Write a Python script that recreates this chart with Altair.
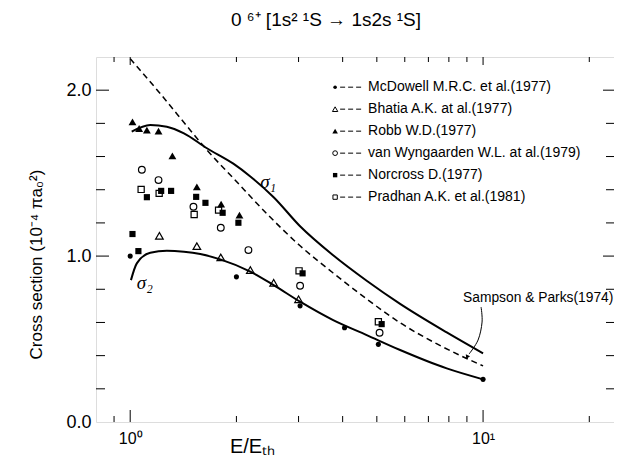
import altair as alt
import pandas as pd

# ---------------- data ----------------
mcd_x = [1.0, 2.0, 3.03, 4.05, 5.05, 10.0]
mcd_y = [1.00, 0.875, 0.70, 0.568, 0.468, 0.257]

bha_x = [1.21, 1.545, 1.806, 2.19, 2.55, 3.0]
bha_y = [1.122, 1.06, 0.992, 0.916, 0.839, 0.74]

robb_x = [1.015, 1.06, 1.115, 1.203, 1.317, 1.545, 1.81, 2.04]
robb_y = [1.809, 1.769, 1.759, 1.753, 1.604, 1.417, 1.313, 1.247]

vw_x = [1.079, 1.203, 1.511, 1.806, 2.163, 3.03, 5.09]
vw_y = [1.520, 1.458, 1.297, 1.171, 1.036, 0.821, 0.538]

nor_x = [1.015, 1.055, 1.115, 1.224, 1.306, 1.538, 1.634, 1.828, 2.026, 3.08, 5.16]
nor_y = [1.133, 1.030, 1.355, 1.393, 1.393, 1.357, 1.321, 1.261, 1.201, 0.896, 0.590]

pra_x = [1.074, 1.208, 1.518, 1.78, 3.01, 5.05]
pra_y = [1.402, 1.378, 1.251, 1.277, 0.911, 0.604]

s1_x = [1.01, 1.14, 1.27, 1.42, 1.65, 1.96, 2.19, 2.55, 3.03, 3.76, 4.69, 5.82, 7.89, 10.0]
s1_y = [1.75, 1.79, 1.78, 1.74, 1.65, 1.557, 1.48, 1.355, 1.18, 1.005, 0.85, 0.712, 0.54, 0.414]

sp_x = [1.0, 1.22, 1.48, 1.65, 1.96, 2.44, 3.03, 3.76, 4.69, 5.82, 7.38, 10.0]
sp_y = [2.19, 1.976, 1.759, 1.639, 1.470, 1.255, 1.062, 0.898, 0.740, 0.598, 0.472, 0.338]

s2_x = [1.005, 1.044, 1.14, 1.27, 1.42, 1.58, 1.80, 2.19, 2.55, 3.03, 3.76, 4.68, 5.82, 7.89, 10.0]
s2_y = [0.855, 0.956, 1.02, 1.032, 1.026, 1.012, 0.98, 0.906, 0.825, 0.725, 0.614, 0.524, 0.434, 0.323, 0.257]

legend_labels = [
    "McDowell M.R.C. et al.(1977)",
    "Bhatia A.K. at al.(1977)",
    "Robb W.D.(1977)",
    "van Wyngaarden W.L. at al.(1979)",
    "Norcross D.(1977)",
    "Pradhan A.K. et al.(1981)",
]

x_major = [1, 10]
x_minor = [0.9, 2, 3, 4, 5, 6, 7, 8, 9, 20]
y_major = [1.0, 2.0]
y_minor = [0.2, 0.4, 0.6, 0.8, 1.2, 1.4, 1.6, 1.8]

title_text = "0 \u2076\u207a [1s\u00b2 \u00b9S \u2192 1s2s \u00b9S]"

# ---------------- layout ----------------
W, H = 518, 365
FONT = "Liberation Sans"

xscale = alt.Scale(type="log", domain=[0.8, 23.5], nice=False, zero=False)
yscale = alt.Scale(domain=[0, 2.2], nice=False, zero=False)

xaxis = alt.Axis(values=[1, 10], labelExpr="datum.value == 1 ? '10\u2070' : '10\u00b9'",
                 title="E/E\u209c\u2095", ticks=False, tickSize=0, domain=False, grid=False,
                 labelFont=FONT, labelFontSize=16, labelColor="black", labelPadding=8,
                 titleFont=FONT, titleFontSize=20, titleFontWeight="normal", titleColor="black",
                 titleX=156, titleY=30, titleBaseline="alphabetic", titleAlign="center")
yaxis = alt.Axis(values=[0, 1, 2], labelExpr="format(datum.value, '.1f')",
                 title="Cross section  (10\u207b\u2074 \u03c0a\u2080\u00b2)", ticks=False, tickSize=0,
                 domain=False, grid=False,
                 labelFont=FONT, labelFontSize=18, labelColor="black", labelPadding=5,
                 titleFont=FONT, titleFontSize=17, titleFontWeight="normal", titleColor="black",
                 titleX=-60, titleY=207, titleAngle=-90, titleBaseline="middle", titleAlign="center")


def X(f="x"):
    return alt.X(f"{f}:Q", scale=xscale, axis=xaxis)


def Y(f="y"):
    return alt.Y(f"{f}:Q", scale=yscale, axis=yaxis)


def df(xs, ys):
    return pd.DataFrame({"x": xs, "y": ys})


layers = []

# curves
layers.append(alt.Chart(df(s1_x, s1_y)).mark_line(color="black", strokeWidth=2, interpolate="monotone")
              .encode(x=X(), y=Y()))
layers.append(alt.Chart(df(s2_x, s2_y)).mark_line(color="black", strokeWidth=2, interpolate="monotone")
              .encode(x=X(), y=Y()))
layers.append(alt.Chart(df(sp_x, sp_y)).mark_line(color="black", strokeWidth=1.5, strokeDash=[6, 4],
                                                  interpolate="monotone")
              .encode(x=X(), y=Y()))

# markers
series = [
    (mcd_x, mcd_y, "circle", True, 26),
    (bha_x, bha_y, "triangle-up", False, 58),
    (robb_x, robb_y, "triangle-up", True, 62),
    (vw_x, vw_y, "circle", False, 45),
    (nor_x, nor_y, "square", True, 38),
    (pra_x, pra_y, "square", False, 38),
]
for xs, ys, shp, fil, sz in series:
    layers.append(alt.Chart(df(xs, ys)).mark_point(shape=shp, filled=fil, size=sz, color="black",
                                                   strokeWidth=1.2, opacity=1)
                  .encode(x=X(), y=Y()))


# pixel -> data helpers for annotation placement
def px_to_y(py):
    return (422 - py) / 166.0


def px_to_x(px):
    return 10 ** ((px - 130) / 353.0)


def tick_rules_y(vals, x0, x1):
    return alt.Chart(pd.DataFrame({"v": vals})).mark_rule(color="black", strokeWidth=1).encode(
        y=Y("v"), x=alt.value(x0), x2=alt.value(x1))


def tick_rules_x(vals, y0, y1):
    return alt.Chart(pd.DataFrame({"v": vals})).mark_rule(color="black", strokeWidth=1).encode(
        x=X("v"), y=alt.value(y0), y2=alt.value(y1))


layers += [
    tick_rules_y(y_major, 0, 13), tick_rules_y(y_minor, 0, 9),
    tick_rules_y(y_major, W, W - 11), tick_rules_y(y_minor, W, W - 8),
    tick_rules_x(x_major, H, H - 12), tick_rules_x(x_minor, H, H - 6),
    tick_rules_x(x_major, 0, 8), tick_rules_x(x_minor, 0, 5),
]

# legend (manual)
row_px = [87, 109, 131, 153, 175, 197]
row_y = [px_to_y(p) for p in row_px]
leg_mx = px_to_x(335)
leg_d0, leg_d1 = px_to_x(340), px_to_x(364)
leg_tx = px_to_x(368)
for (xs, ys, shp, fil, sz), ry in zip(series, row_y):
    layers.append(alt.Chart(df([leg_mx], [ry])).mark_point(shape=shp, filled=fil, size=sz * 0.5,
                                                           color="black", strokeWidth=1, opacity=1)
                  .encode(x=X(), y=Y()))
leg_df = pd.DataFrame({"x": [leg_d0] * 6, "x2": [leg_d1] * 6, "y": row_y, "label": legend_labels,
                       "tx": [leg_tx] * 6})
layers.append(alt.Chart(leg_df).mark_rule(color="black", strokeWidth=1, strokeDash=[5, 3])
              .encode(x=X(), x2="x2:Q", y=Y()))
layers.append(alt.Chart(leg_df).mark_text(align="left", baseline="middle", font=FONT, fontSize=14,
                                          color="black")
              .encode(x=X("tx"), y=Y(), text="label:N"))

# curve labels
lab_df = pd.DataFrame({"x": [2.46, 1.10], "y": [1.446, 0.84], "t": ["\u03c3\u2081", "\u03c3\u2082"]})
layers.append(alt.Chart(lab_df).mark_text(font="Liberation Serif", fontStyle="italic", fontSize=19,
                                          color="black", baseline="middle", align="center")
              .encode(x=X(), y=Y(), text="t:N"))

# Sampson & Parks annotation
sp_lab = pd.DataFrame({"x": [px_to_x(463)], "y": [px_to_y(298)], "t": ["Sampson & Parks(1974)"]})
layers.append(alt.Chart(sp_lab).mark_text(font=FONT, fontSize=13.8, color="black", align="left",
                                          baseline="middle")
              .encode(x=X(), y=Y(), text="t:N"))
arrow = pd.DataFrame({"x": [px_to_x(p) for p in [481, 482, 478, 469]],
                      "y": [px_to_y(p) for p in [307, 322, 340, 354]],
                      "o": [0, 1, 2, 3]})
layers.append(alt.Chart(arrow).mark_line(color="black", strokeWidth=1, interpolate="cardinal")
              .encode(x=X(), y=Y(), order="o:Q"))
head = pd.DataFrame({"x": [px_to_x(467)], "y": [px_to_y(357)]})
layers.append(alt.Chart(head).mark_point(shape="triangle-down", filled=True, size=22, color="black",
                                         angle=25, opacity=1)
              .encode(x=X(), y=Y()))

chart = alt.layer(*layers).properties(
    width=W, height=H,
    autosize=alt.AutoSizeParams(type="none"),
    padding={"left": 88, "top": 49, "right": 0, "bottom": 35},
    title=alt.TitleParams(text=title_text, font=FONT, fontSize=19, fontWeight="normal", color="black",
                          anchor="middle", frame="group", dx=-29, offset=26),
).configure_view(stroke="black", strokeWidth=1.2).configure(background="white")

chart.save("out.html", embed_options={"renderer": "svg", "actions": False})
